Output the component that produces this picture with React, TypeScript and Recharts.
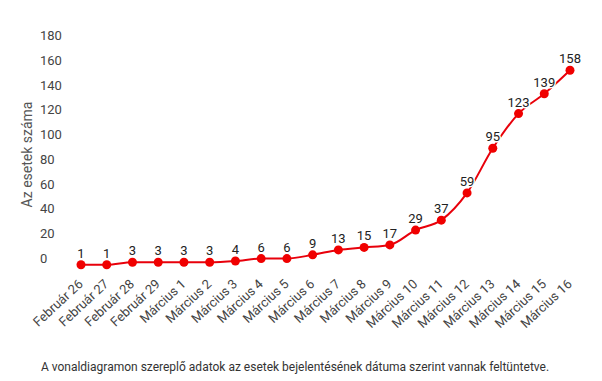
import React from "react";
import { LineChart, Line, XAxis, YAxis, LabelList } from "recharts";

const dates = [
    "Február 26", "Február 27", "Február 28", "Február 29",
    "Március 1", "Március 2", "Március 3", "Március 4", "Március 5",
    "Március 6", "Március 7", "Március 8", "Március 9", "Március 10",
    "Március 11", "Március 12", "Március 13", "Március 14", "Március 15",
    "Március 16",
];
const cases = [1, 1, 3, 3, 3, 3, 4, 6, 6, 9, 13, 15, 17, 29, 37, 59, 95, 123, 139, 158];
const yTicks = [0, 20, 40, 60, 80, 100, 120, 140, 160, 180];

const data = dates.map((d, i) => ({ date: d, cases: cases[i] }));

const font = "Roboto, 'Noto Sans', sans-serif";

const YTick = (props: any) => {
    const { y, payload } = props;
    return (
        <text x={40} y={y - 8} dy={5} textAnchor="start" fontSize={13} fill="#444" fontFamily={font}>
            {payload.value}
        </text>
    );
};

const XTick = (props: any) => {
    const { x, y, payload } = props;
    return (
        <g transform={`translate(${x},${y + 8})`}>
            <text textAnchor="end" transform="rotate(-43)" fontSize={13} fill="#444" fontFamily={font} dy={4}>
                {payload.value}
            </text>
        </g>
    );
};

const ValueLabel = (props: any) => {
    const { x, y, value } = props;
    return (
        <text
            x={x}
            y={y - 7}
            textAnchor="middle"
            fontSize={13}
            fill="#222"
            fontFamily={font}
            stroke="#fff"
            strokeWidth={3}
            paintOrder="stroke"
        >
            {value}
        </text>
    );
};

export default function App() {
    return (
        <div style={{ position: "absolute", left: 0, top: 0, width: 602, height: 381, background: "#fff" }}>
            <LineChart
                width={602}
                height={381}
                data={data}
                margin={{ top: 43, right: 32, left: 0, bottom: 40 }}
            >
                <XAxis
                    dataKey="date"
                    axisLine={false}
                    tickLine={false}
                    interval={0}
                    height={75}
                    tick={<XTick />}
                />
                <YAxis
                    domain={[0, 180]}
                    ticks={yTicks}
                    width={81}
                    axisLine={false}
                    tickLine={false}
                    tick={<YTick />}
                    label={{
                        value: "Az esetek száma",
                        angle: -90,
                        position: "insideLeft",
                        offset: 27,
                        style: { fontSize: 14, fill: "#555", fontFamily: font, textAnchor: "middle" },
                    }}
                />
                <Line
                    type="monotone"
                    dataKey="cases"
                    stroke="#e8000b"
                    strokeWidth={2}
                    dot={{ r: 4.5, fill: "#f00000", stroke: "#f00000", strokeWidth: 0 }}
                    isAnimationActive={false}
                >
                    <LabelList dataKey="cases" content={<ValueLabel />} />
                </Line>
            </LineChart>
            <div
                style={{
                    position: "absolute",
                    top: 360,
                    left: -6,
                    width: 602,
                    textAlign: "center",
                    fontFamily: font,
                    fontSize: 12,
                    color: "#333",
                }}
            >
                A vonaldiagramon szereplő adatok az esetek bejelentésének dátuma szerint vannak feltüntetve.
            </div>
        </div>
    );
}
